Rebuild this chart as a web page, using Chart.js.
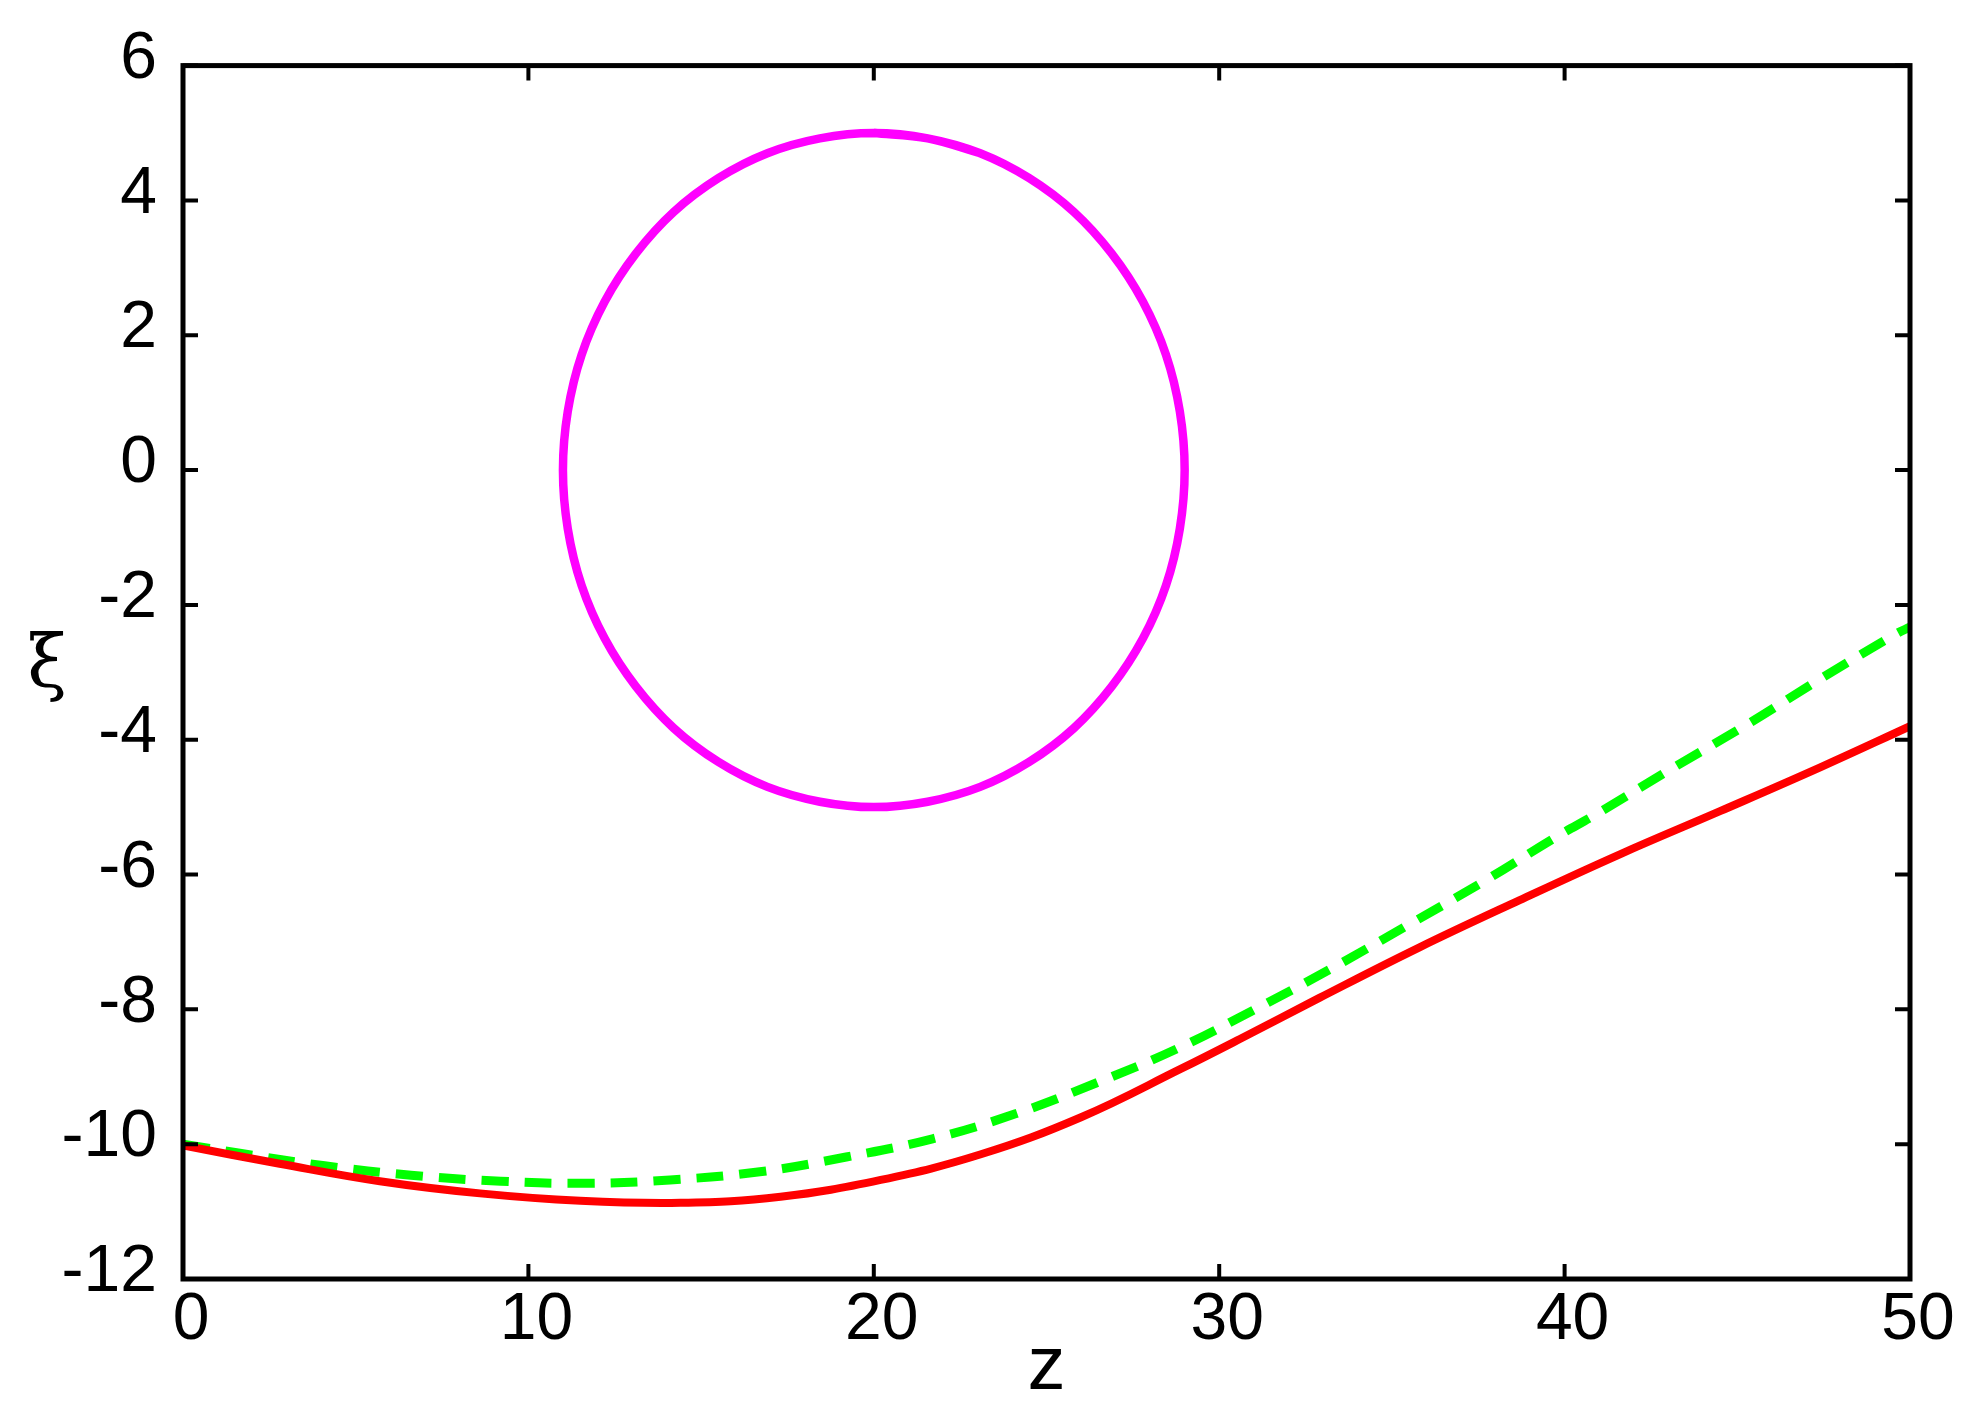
<!DOCTYPE html>
<html>
<head>
<meta charset="utf-8">
<title>xi vs z</title>
<script src="https://cdn.jsdelivr.net/npm/chart.js@4.4.0/dist/chart.umd.min.js"></script>
<style>
  html, body { margin: 0; padding: 0; background: #fff; }
  #wrap { width: 1968px; height: 1424px; }
</style>
</head>
<body>
<div id="wrap"><canvas id="xiChart" width="1968" height="1424"></canvas></div>
<script>
// Values

// red solid curve
const redZ = [0, 2.8, 5.7, 8.6, 11.5, 14.4, 17.3, 20.2, 23.1, 26.0, 28.9, 30.6, 32.9, 35.8, 38.7, 41.6, 44.5, 47.4, 50]
const redXi = [-10.02, -10.29, -10.55, -10.73, -10.84, -10.87, -10.78, -10.53, -10.15, -9.6, -8.88, -8.44, -7.83, -7.08, -6.38, -5.7, -5.06, -4.41, -3.8]

// green dashed curve
const greenZ = [0, 1.6, 4.1, 6.6, 9.2, 11.7, 14.1, 16.7, 19.2, 21.7, 24.1, 26.5, 28.8, 31.0, 33.3, 35.5, 37.7, 39.8, 40.9, 43.1, 45.3, 47.4, 49.6, 50]
const greenXi = [-10.0, -10.13, -10.32, -10.46, -10.55, -10.58, -10.53, -10.41, -10.19, -9.92, -9.55, -9.08, -8.58, -8.01, -7.38, -6.74, -6.09, -5.43, -5.11, -4.43, -3.77, -3.1, -2.43, -2.33]

// magenta closed loop around z=20, xi=0 (traced from the top, clockwise, overlapping one step)
const loopZ = [20, 21.56, 23.08, 24.5, 25.79, 26.89, 27.79, 28.46, 28.86, 29,
  28.86, 28.46, 27.79, 26.89, 25.79, 24.5, 23.08, 21.56, 20,
  18.44, 16.92, 15.5, 14.21, 13.11, 12.21, 11.54, 11.14, 11,
  11.14, 11.54, 12.21, 13.11, 14.21, 15.5, 16.92, 18.44, 20, 21.56, 23.08]
const loopXi = [5, 4.92, 4.7, 4.33, 3.83, 3.21, 2.5, 1.71, 0.87, 0,
  -0.87, -1.71, -2.5, -3.21, -3.83, -4.33, -4.7, -4.92, -5,
  -4.92, -4.7, -4.33, -3.83, -3.21, -2.5, -1.71, -0.87, 0,
  0.87, 1.71, 2.5, 3.21, 3.83, 4.33, 4.7, 4.92, 5, 4.92, 4.7]

// axes
const xTicks = [0, 10, 20, 30, 40, 50]
const yTicks = [-12, -10, -8, -6, -4, -2, 0, 2, 4, 6]

const toPoints = (xs, ys) => xs.map((x, i) => ({ x: x, y: ys[i] }))

// frame, inward ticks (mirrored) and the upright y title
const framePlugin = {
  id: "frame",
  afterDraw(chart) {
    const ctx = chart.ctx
    const area = chart.chartArea
    const xs = chart.scales.x
    const ys = chart.scales.y
    const tl = 15

    ctx.save()
    ctx.strokeStyle = "#000"
    ctx.lineWidth = 4
    ctx.beginPath()
    xTicks.forEach((t) => {
      const px = xs.getPixelForValue(t)
      ctx.moveTo(px, area.bottom)
      ctx.lineTo(px, area.bottom - tl)
      ctx.moveTo(px, area.top)
      ctx.lineTo(px, area.top + tl)
    })
    yTicks.forEach((t) => {
      const py = ys.getPixelForValue(t)
      ctx.moveTo(area.left, py)
      ctx.lineTo(area.left + tl, py)
      ctx.moveTo(area.right, py)
      ctx.lineTo(area.right - tl, py)
    })
    ctx.stroke()

    ctx.lineWidth = 5
    ctx.lineJoin = "miter"
    ctx.strokeRect(area.left, area.top, area.right - area.left, area.bottom - area.top)

    ctx.fillStyle = "#000"
    ctx.font = "72px 'DejaVu Serif', 'Liberation Serif', serif"
    ctx.textAlign = "center"
    ctx.textBaseline = "middle"
    ctx.fillText("ξ", area.left - 136, (area.top + area.bottom) / 2 - 4)
    ctx.restore()
  },
}

document.addEventListener("DOMContentLoaded", () => {
  const ctx = document.getElementById("xiChart").getContext("2d")

  new Chart(ctx, {
    type: "line",
    data: {
      datasets: [
        {
          label: "loop",
          data: toPoints(loopZ, loopXi),
          borderColor: "#ff00ff",
          borderWidth: 8.5,
          pointRadius: 0,
          tension: 0.35,
          fill: false,
        },
        {
          label: "red",
          data: toPoints(redZ, redXi),
          borderColor: "#ff0000",
          borderWidth: 8,
          pointRadius: 0,
          tension: 0.4,
          fill: false,
        },
        {
          label: "green",
          data: toPoints(greenZ, greenXi),
          borderColor: "#00ff00",
          borderWidth: 9,
          borderDash: [27, 16],
          borderCapStyle: "butt",
          pointRadius: 0,
          tension: 0.4,
          fill: false,
        },
      ],
    },
    options: {
      responsive: false,
      animation: false,
      events: [],
      layout: { padding: { top: 64.5, right: 58, left: 0, bottom: 0 } },
      plugins: {
        legend: { display: false },
        tooltip: { enabled: false },
      },
      scales: {
        x: {
          type: "linear",
          min: 0,
          max: 50,
          afterBuildTicks: (scale) => { scale.ticks = xTicks.map((v) => ({ value: v })) },
          afterFit: (scale) => { scale.height = 145 },
          grid: { display: false, drawTicks: false },
          border: { display: false },
          ticks: {
            color: "#000",
            font: { family: "'Liberation Sans', Arial, sans-serif", size: 66 },
            padding: 2,
            labelOffset: 8,
            maxRotation: 0,
          },
          title: {
            display: true,
            text: "z",
            color: "#000",
            font: { family: "'Liberation Sans', Arial, sans-serif", size: 76 },
            padding: { top: 0, bottom: 10 },
          },
        },
        y: {
          type: "linear",
          min: -12,
          max: 6,
          afterBuildTicks: (scale) => { scale.ticks = yTicks.map((v) => ({ value: v })) },
          afterFit: (scale) => { scale.width = 183 },
          grid: { display: false, drawTicks: false },
          border: { display: false },
          ticks: {
            color: "#000",
            font: { family: "'Liberation Sans', Arial, sans-serif", size: 66 },
            padding: 26,
            labelOffset: -6,
          },
        },
      },
    },
    plugins: [framePlugin],
  })
})
</script>
</body>
</html>
